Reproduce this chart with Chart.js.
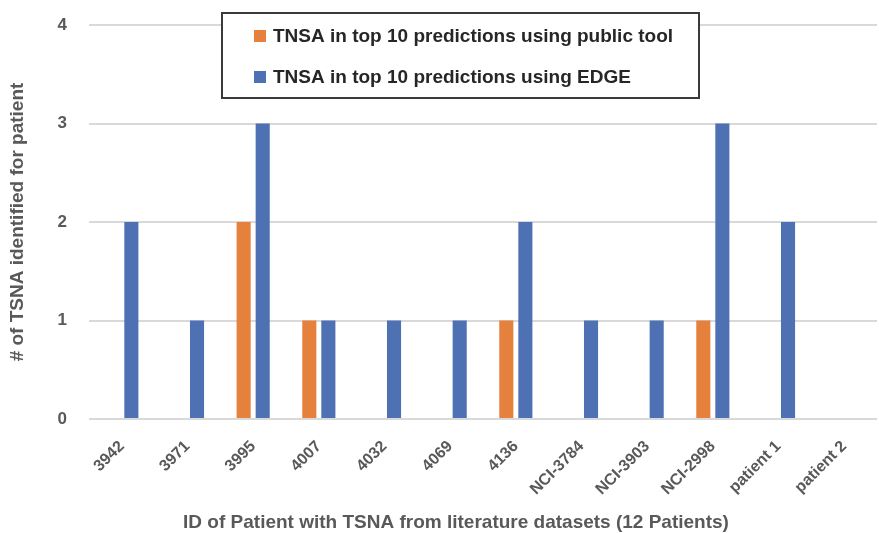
<!DOCTYPE html>
<html>
<head>
<meta charset="utf-8">
<script src="https://cdn.jsdelivr.net/npm/chart.js@4/dist/chart.umd.min.js"></script>
<style>
  html, body { margin: 0; padding: 0; background: #ffffff; }
  #wrap { width: 879px; height: 533px; }
</style>
</head>
<body>
<div id="wrap"><canvas id="c" width="879" height="533"></canvas></div>
<script>
const categories = ["3942", "3971", "3995", "4007", "4032", "4069", "4136", "NCI-3784", "NCI-3903", "NCI-2998", "patient 1", "patient 2"];
const publicToolValues = [0, 0, 2, 1, 0, 0, 1, 0, 0, 1, 0, 0];
const edgeValues = [2, 1, 3, 1, 1, 1, 2, 1, 1, 3, 2, 0];
const yTicks = [0, 1, 2, 3, 4];
const seriesNames = ["TNSA in top 10 predictions using public tool", "TNSA in top 10 predictions using EDGE"];
const xTitle = "ID of Patient with TSNA from literature datasets (12 Patients)";
const yTitle = "# of TSNA identified for patient";

const FONT = "'Liberation Sans', Arial, sans-serif";

const boxLegend = {
  id: 'boxLegend',
  afterDraw(chart) {
    const ctx = chart.ctx;
    const x0 = 222, y0 = 13, w = 477, h = 85;
    ctx.save();
    ctx.fillStyle = '#ffffff';
    ctx.fillRect(x0, y0, w, h);
    ctx.strokeStyle = '#3a3a3a';
    ctx.lineWidth = 2;
    ctx.strokeRect(x0, y0, w, h);
    ctx.font = "bold 19px " + FONT;
    ctx.textBaseline = 'middle';
    chart.data.datasets.forEach((ds, i) => {
      const cy = y0 + 23 + i * 41;
      ctx.fillStyle = ds.backgroundColor;
      ctx.fillRect(x0 + 32, cy - 6, 12, 12);
      ctx.fillStyle = '#262626';
      ctx.fillText(ds.label, x0 + 51, cy + 1);
    });
    // x-axis title
    ctx.font = "bold 19px " + FONT;
    ctx.fillStyle = '#595959';
    ctx.textAlign = 'center';
    ctx.fillText(xTitle, 456, 523);
    ctx.restore();
  }
};

new Chart(document.getElementById('c'), {
  type: 'bar',
  data: {
    labels: categories,
    datasets: [
      { label: seriesNames[0], data: publicToolValues, backgroundColor: '#e6803d', categoryPercentage: 0.58, barPercentage: 0.74 },
      { label: seriesNames[1], data: edgeValues, backgroundColor: '#4e71b4', categoryPercentage: 0.58, barPercentage: 0.74 }
    ]
  },
  options: {
    responsive: false,
    animation: false,
    layout: { padding: { top: 25, right: 2, left: 0, bottom: 0 } },
    plugins: { legend: { display: false }, tooltip: { enabled: false } },
    scales: {
      x: {
        grid: { display: false },
        border: { display: false },
        ticks: {
          color: '#595959',
          font: { family: FONT, size: 16, weight: 'bold' },
          minRotation: 45, maxRotation: 45, padding: 10, autoSkip: false
        },
        title: { display: false },
        afterFit(scale) { scale.height = 114; scale.paddingLeft = 0; scale.paddingRight = 0; }
      },
      y: {
        min: 0, max: 4,
        afterBuildTicks(scale) { scale.ticks = yTicks.map(v => ({ value: v })); },
        grid: { color: '#d9d9d9', lineWidth: 2, drawTicks: false },
        border: { display: false },
        ticks: {
          color: '#595959',
          font: { family: FONT, size: 17, weight: 'bold' },
          padding: 22
        },
        title: {
          display: true, text: yTitle, color: '#595959',
          font: { family: FONT, size: 19, weight: 'bold' },
          padding: { top: 6, bottom: 0 }
        },
        afterFit(scale) { scale.width = 89; scale.paddingTop = 0; scale.paddingBottom = 0; }
      }
    }
  },
  plugins: [boxLegend]
});
</script>
</body>
</html>
